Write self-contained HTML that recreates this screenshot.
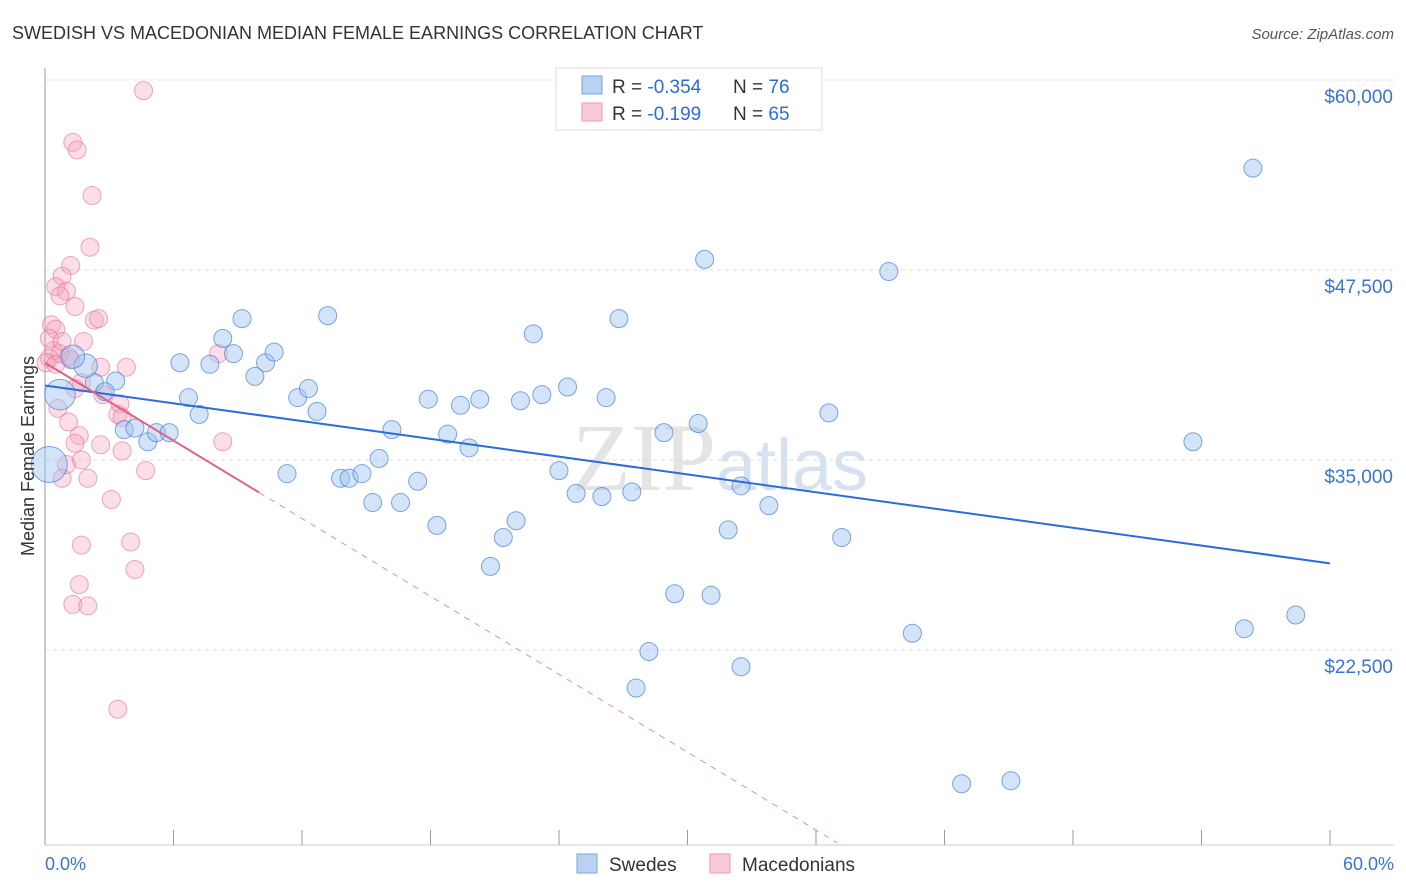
<!DOCTYPE html>
<html><head><meta charset="utf-8"><style>
body{margin:0;background:#fff;font-family:"Liberation Sans",sans-serif}
svg{display:block}
</style></head><body>
<svg width="1406" height="892" xmlns="http://www.w3.org/2000/svg">
<text x="12" y="39" font-size="18" fill="#333">SWEDISH VS MACEDONIAN MEDIAN FEMALE EARNINGS CORRELATION CHART</text>
<text x="1394" y="39" font-size="15" fill="#555" font-style="italic" text-anchor="end">Source: ZipAtlas.com</text>
<text x="720" y="490" font-size="96" fill="#e4e4e4" text-anchor="middle" font-family="Liberation Serif">ZIP<tspan font-family="Liberation Sans" font-size="72" fill="#d6e2f2">atlas</tspan></text>
<g id="grid"></g>
<g id="axes"></g>
<g id="pts"></g>
<g id="lines"></g>
<text transform="translate(34,456) rotate(-90)" font-size="18" fill="#333" text-anchor="middle">Median Female Earnings</text>
<text x="45" y="870" font-size="18" fill="#3a73d0">0.0%</text>
<text x="1394" y="870" font-size="18" fill="#3a73d0" text-anchor="end">60.0%</text>
<g>
<rect x="556" y="68" width="266" height="62" fill="#fff" stroke="#ddd"/>
<rect x="582" y="76" width="20" height="18" fill="#b9d2f3" stroke="#7aa6e3"/>
<rect x="582" y="103" width="20" height="18" fill="#f9c9d7" stroke="#ec9ab4"/>
<text x="612" y="93" font-size="19" fill="#333">R = <tspan fill="#2a6dd9">-0.354</tspan><tspan x="733">N = </tspan><tspan fill="#2a6dd9">76</tspan></text>
<text x="612" y="120" font-size="19" fill="#333">R = <tspan fill="#2a6dd9"> -0.199</tspan><tspan x="733">N = </tspan><tspan fill="#2a6dd9">65</tspan></text>
</g>
<g>
<rect x="577" y="854" width="20" height="19" fill="#b9d2f3" stroke="#7aa6e3"/>
<text x="609" y="871" font-size="19" fill="#333">Swedes</text>
<rect x="710" y="854" width="20" height="19" fill="#f9c9d7" stroke="#ec9ab4"/>
<text x="742" y="871" font-size="19" fill="#333">Macedonians</text>
</g>
</svg>
<script>
const yTicks=[60000,47500,35000,22500];
const yTickLabels=["$60,000","$47,500","$35,000","$22,500"];
const xTicks=[0,6,12,18,24,30,36,42,48,54,60];
const swedesX=[56.4,30.8,39.4,9.2,13.2,26.8,22.8,8.3,6.3,7.7,8.8,10.3,10.7,9.8,3.3,2.3,2.8,6.7,7.2,11.8,12.3,12.7,17.9,19.4,20.3,22.2,23.2,24.4,26.2,36.6,30.5,28.9,16.2,18.8,19.8,15.6,11.3,13.8,14.2,14.8,17.4,15.3,16.6,24.0,24.8,26.0,27.4,32.5,33.8,18.3,22.0,21.4,31.9,37.2,20.8,29.4,31.1,53.6,58.4,56.0,40.5,28.2,32.5,27.6,42.8,45.1,4.8,5.2,3.7,4.2,5.8,0.2,0.7,1.9,1.3];
const swedesY=[54200,48200,47400,44300,44500,44300,43300,43000,41400,41300,42000,41400,42100,40500,40200,40100,39500,39100,38000,39100,39700,38200,39000,38600,39000,38900,39300,39800,39100,38100,37400,36800,37000,36700,35800,35100,34100,33800,33800,34100,33600,32200,32200,34300,32800,32600,32900,33300,32000,30700,31000,29900,30400,29900,28000,26200,26100,36200,24800,23900,23600,22400,21400,20000,13700,13900,36200,36800,37000,37100,36800,34700,39300,41200,41800];
const swedesSize=[1,1,1,1,1,1,1,1,1,1,1,1,1,1,1,1,1,1,1,1,1,1,1,1,1,1,1,1,1,1,1,1,1,1,1,1,1,1,1,1,1,1,1,1,1,1,1,1,1,1,1,1,1,1,1,1,1,1,1,1,1,1,1,1,1,1,1,1,1,1,1,2,1.7,1.3,1.3];
const macX=[4.6,1.3,1.5,2.2,2.1,1.2,0.8,0.5,1.0,0.7,1.4,2.3,2.5,0.3,0.5,1.8,0.4,0.7,1.1,0.2,0.05,1.2,8.1,3.8,2.6,1.7,1.4,0.6,3.5,3.4,3.6,2.7,1.1,1.6,1.4,3.6,2.6,8.3,1.7,1.0,4.7,2.0,0.8,3.1,1.7,4.0,4.2,1.6,1.3,2.0,3.4,0.2,0.8,0.5];
const macY=[59300,55900,55400,52400,49000,47800,47100,46400,46100,45800,45100,44200,44300,43900,43600,42800,42200,42000,41800,41700,41400,41600,42000,41100,41100,40100,39700,38400,38700,38000,37800,39300,37500,36600,36100,35600,36000,36200,35000,34700,34300,33800,33800,32400,29400,29600,27800,26800,25500,25400,18600,43000,42800,41300];
const blueTrend=[39900,28200];
const pinkTrend=[41400,-854];
const pinkSolidEnd=10;
const X=v=>45+v*(1285/60);
const Y=v=>80+(60000-v)*190/12500;
const NS="http://www.w3.org/2000/svg";
function mk(t,a,p){const e=document.createElementNS(NS,t);for(const k in a)e.setAttribute(k,a[k]);p.appendChild(e);return e;}
const grid=document.getElementById('grid'),axes=document.getElementById('axes'),pts=document.getElementById('pts'),lines=document.getElementById('lines');
yTicks.forEach((v,i)=>{
 const l=mk('line',{x1:45,x2:1394,y1:Y(v),y2:Y(v),stroke:'#ddd','stroke-dasharray':'4,4'},grid);
 
 
 const t=mk('text',{x:1393,y:Y(v)+23,'font-size':19,fill:'#3a73d0','text-anchor':'end'},grid);
 t.textContent=yTickLabels[i];
 
 
});
const ya=mk('line',{x1:45,x2:45,y1:68,y2:845,stroke:'#999'},axes);


const xa=mk('line',{x1:45,x2:1394,y1:845,y2:845,stroke:'#ccc'},axes);


xTicks.forEach(v=>{
 const t=mk('line',{x1:X(v),x2:X(v),y1:830,y2:845,stroke:'#999'},axes);
 
 
});
macX.forEach((v,i)=>{
 const c=mk('circle',{cx:X(v),cy:Y(macY[i]),r:9,fill:'rgba(244,160,188,0.35)',stroke:'rgba(230,110,150,0.6)','stroke-width':1},pts);
 
 
});
swedesX.forEach((v,i)=>{
 const c=mk('circle',{cx:X(v),cy:Y(swedesY[i]),r:9*swedesSize[i],fill:'rgba(160,195,240,0.45)',stroke:'rgba(70,130,215,0.7)','stroke-width':1},pts);
 
 
});
const bl=mk('line',{x1:X(0),y1:Y(blueTrend[0]),x2:X(60),y2:Y(blueTrend[1]),stroke:'#2a6dd9','stroke-width':2},lines);


const pEnd=(60000-80+845*0)&&(function(){return (Y(0)>0)})();
const xEnd=(pinkTrend[0]-(60000-(843-80)*12500/190))/(-pinkTrend[1]);
const ps=mk('line',{x1:X(0),y1:Y(pinkTrend[0]),x2:X(pinkSolidEnd),y2:Y(pinkTrend[0]+pinkTrend[1]*pinkSolidEnd),stroke:'#e0608a','stroke-width':2},lines);


const pd=mk('line',{x1:X(pinkSolidEnd),y1:Y(pinkTrend[0]+pinkTrend[1]*pinkSolidEnd),x2:X(xEnd),y2:Y(pinkTrend[0]+pinkTrend[1]*xEnd),stroke:'#e88aa8','stroke-width':1,'stroke-dasharray':'6,6'},lines);


</script>
</body></html>
